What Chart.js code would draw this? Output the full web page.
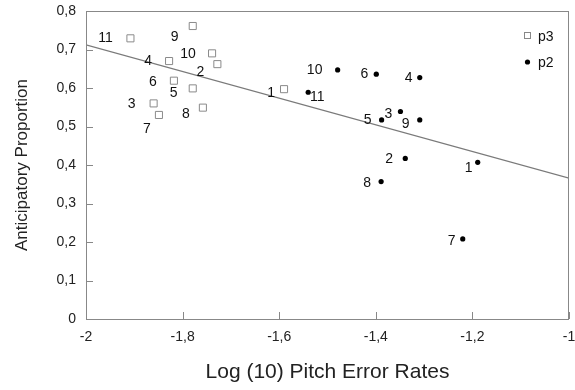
<!DOCTYPE html>
<html>
<head>
<meta charset="utf-8">
<script src="https://cdn.jsdelivr.net/npm/chart.js@4.4.1/dist/chart.umd.min.js"></script>
<style>
  html, body { margin: 0; padding: 0; background: #fff; overflow: hidden; }
  #wrap { width: 575px; height: 390px; }
</style>
</head>
<body>
<div id="wrap"><canvas id="c" width="575" height="390"></canvas></div>
<script>
// Values
const pointNames = ['1', '2', '3', '4', '5', '6', '7', '8', '9', '10', '11'];
const p3X = [-1.590, -1.728, -1.860, -1.828, -1.779, -1.818, -1.849, -1.758, -1.779, -1.739, -1.908];
const p3Y = [0.597, 0.662, 0.560, 0.670, 0.599, 0.619, 0.530, 0.549, 0.761, 0.690, 0.729];
const p2X = [-1.189, -1.339, -1.349, -1.309, -1.388, -1.399, -1.220, -1.389, -1.309, -1.479, -1.540];
const p2Y = [0.407, 0.417, 0.539, 0.627, 0.517, 0.636, 0.208, 0.357, 0.517, 0.647, 0.589];
const fitX = [-2, -1];
const fitY = [0.712, 0.366];
const xTicks = [-2, -1.8, -1.6, -1.4, -1.2, -1];
const yTicks = [0, 0.1, 0.2, 0.3, 0.4, 0.5, 0.6, 0.7, 0.8];

const toPts = (xs, ys) => xs.map((x, i) => ({ x: x, y: ys[i] }));
const fmt = v => String(Math.round(v * 10) / 10).replace('.', ',');
const FONT = "'Liberation Sans', Arial, sans-serif";

// label offsets in px (dx, dy) from each marker, in pointNames order
const labelOffsets = {
  p3: [[-13, 4], [-17, 8], [-22, 1], [-21, 0], [-19, 5], [-21, 1], [-12, 14], [-17, 7], [-18, 11], [-24, 1], [-25, 0]],
  p2: [[-9, 6], [-16, 1], [-12, 3], [-11, 1], [-14, 0], [-12, 0], [-11, 2], [-14, 2], [-14, 4], [-23, 0], [9, 5]]
};

const extras = {
  id: 'extras',
  afterDatasetsDraw(chart) {
    const { ctx, chartArea: a } = chart;
    const xs = chart.scales.x, ys = chart.scales.y;
    ctx.save();
    // frame
    ctx.strokeStyle = '#888';
    ctx.lineWidth = 1;
    ctx.strokeRect(a.left + 0.5, a.top + 0.5, a.right - a.left - 1, a.bottom - a.top);
    // inward ticks
    ctx.beginPath();
    xTicks.forEach(v => {
      const px = Math.round(xs.getPixelForValue(v)) + 0.5;
      ctx.moveTo(px, a.bottom);
      ctx.lineTo(px, a.bottom - 7);
    });
    yTicks.forEach(v => {
      const py = Math.round(ys.getPixelForValue(v)) + 0.5;
      ctx.moveTo(a.left, py);
      ctx.lineTo(a.left + 7, py);
    });
    ctx.stroke();
    // point labels
    ctx.fillStyle = '#111';
    ctx.font = '14px ' + FONT;
    ctx.textAlign = 'center';
    ctx.textBaseline = 'middle';
    [['p3', p3X, p3Y], ['p2', p2X, p2Y]].forEach(([key, X, Y]) => {
      X.forEach((x, i) => {
        const o = labelOffsets[key][i];
        ctx.fillText(pointNames[i], xs.getPixelForValue(x) + o[0], ys.getPixelForValue(Y[i]) + o[1]);
      });
    });
    // legend
    ctx.textAlign = 'left';
    ctx.strokeStyle = '#888';
    ctx.fillStyle = '#fff';
    ctx.fillRect(524, 32, 7, 7);
    ctx.strokeRect(524.5, 32.5, 6, 6);
    ctx.fillStyle = '#000';
    ctx.beginPath();
    ctx.arc(527.5, 62, 2.6, 0, Math.PI * 2);
    ctx.fill();
    ctx.fillStyle = '#111';
    ctx.fillText('p3', 538, 37);
    ctx.fillText('p2', 538, 63);
    ctx.restore();
  }
};

new Chart(document.getElementById('c'), {
  type: 'scatter',
  data: {
    datasets: [
      {
        label: 'fit',
        data: toPts(fitX, fitY),
        showLine: true,
        borderColor: '#7a7a7a',
        borderWidth: 1.3,
        pointRadius: 0,
        order: 3
      },
      {
        label: 'p3',
        data: toPts(p3X, p3Y),
        pointStyle: 'rect',
        radius: 5,
        borderColor: '#8a8a8a',
        backgroundColor: '#fff',
        borderWidth: 1,
        order: 2
      },
      {
        label: 'p2',
        data: toPts(p2X, p2Y),
        pointStyle: 'circle',
        radius: 2.6,
        borderWidth: 0,
        backgroundColor: '#000',
        order: 1
      }
    ]
  },
  options: {
    responsive: false,
    animation: false,
    devicePixelRatio: 1,
    layout: { padding: { top: 11, left: 0, right: 3, bottom: 0 } },
    plugins: { legend: { display: false }, tooltip: { enabled: false } },
    scales: {
      x: {
        type: 'linear',
        min: -2, max: -1,
        afterBuildTicks: s => { s.ticks = xTicks.map(v => ({ value: v })); },
        afterFit: s => { s.height = 71; s.paddingLeft = 0; s.paddingRight = 0; },
        grid: { display: false, drawTicks: false },
        border: { display: false },
        ticks: { padding: 10, color: '#222', font: { size: 14, family: FONT }, callback: v => fmt(v), maxRotation: 0 },
        title: { display: true, text: 'Log (10) Pitch Error Rates', color: '#222', font: { size: 21, family: FONT }, padding: { top: 0, bottom: 5 } }
      },
      y: {
        type: 'linear',
        min: 0, max: 0.8,
        afterBuildTicks: s => { s.ticks = yTicks.map(v => ({ value: v })); },
        afterFit: s => { s.width = 86; s.paddingTop = 0; s.paddingBottom = 0; },
        grid: { display: false, drawTicks: false },
        border: { display: false },
        ticks: { padding: 10, color: '#222', font: { size: 14, family: FONT }, callback: v => fmt(v) },
        title: { display: true, text: 'Anticipatory Proportion', color: '#222', font: { size: 17, family: FONT }, padding: { top: 12, bottom: 0 } }
      }
    }
  },
  plugins: [extras]
});
</script>
</body>
</html>
